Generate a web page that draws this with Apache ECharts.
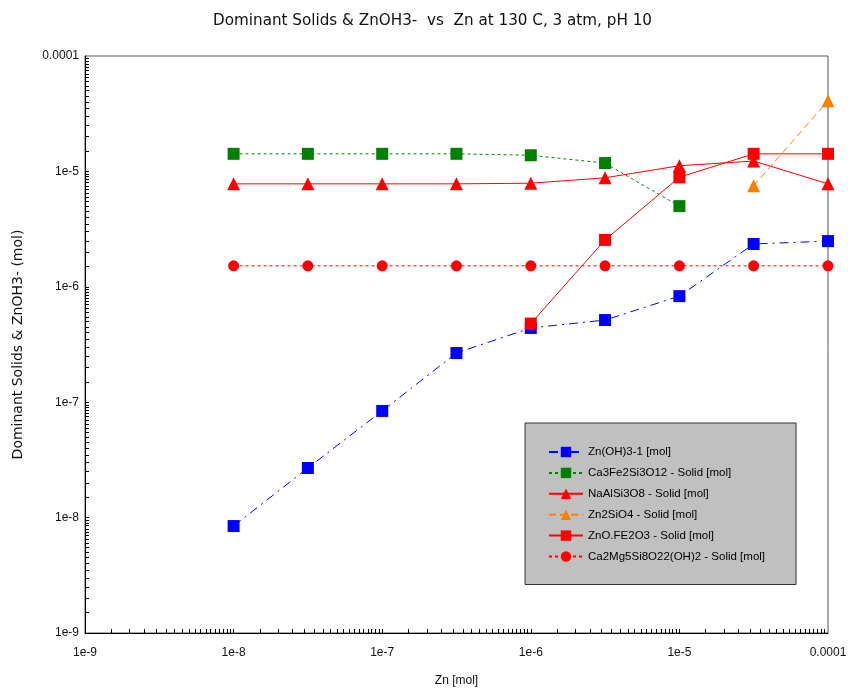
<!DOCTYPE html>
<html>
<head>
<meta charset="utf-8">
<script src="https://cdn.jsdelivr.net/npm/echarts@6/dist/echarts.min.js"></script>
<style>
  html, body { margin: 0; padding: 0; background: #fff; }
  #chart { width: 848px; height: 692px; }
</style>
</head>
<body>
<div id="chart"></div>
<script>
// x positions (Zn, mol)
var znVals = [1e-8, 3.16e-8, 1e-7, 3.16e-7, 1e-6, 3.16e-6, 1e-5, 3.16e-5, 1e-4];

// series values (mol), null where the phase is absent
var znOH3 = [8.45e-9, 2.69e-8, 8.4e-8, 2.67e-7, 4.4e-7, 5.15e-7, 8.3e-7, 2.35e-6, 2.49e-6];
var ca3Fe2 = [1.42e-5, 1.42e-5, 1.42e-5, 1.42e-5, 1.38e-5, 1.18e-5, 5.0e-6, null, null];
var naAlSi = [7.8e-6, 7.8e-6, 7.8e-6, 7.8e-6, 7.9e-6, 8.8e-6, 1.12e-5, 1.23e-5, 7.8e-6];
var zn2SiO4 = [null, null, null, null, null, null, null, 7.5e-6, 4.1e-5];
var znOFe2O3 = [null, null, null, null, 4.8e-7, 2.55e-6, 8.9e-6, 1.42e-5, 1.42e-5];
var ca2Mg5 = [1.52e-6, 1.52e-6, 1.52e-6, 1.52e-6, 1.52e-6, 1.52e-6, 1.52e-6, 1.52e-6, 1.52e-6];

// axis tick labels, by decade exponent
var tickLabels = {'-9': '1e-9', '-8': '1e-8', '-7': '1e-7', '-6': '1e-6', '-5': '1e-5', '-4': '0.0001'};

// small ticks every half unit inside each decade
var tickVals = [];
for (var e = -9; e < -4; e++) {
    for (var m = 1; m < 10; m += 0.5) {
        tickVals.push(m * Math.pow(10, e));
    }
}
tickVals.push(1e-4);

function pairs(ys) {
    var out = [];
    for (var i = 0; i < ys.length; i++) {
        if (ys[i] != null) out.push([znVals[i], ys[i]]);
    }
    return out;
}

function fmt(v) {
    var k = Math.round(Math.log10(v));
    return tickLabels[String(k)] || '';
}

function mkSeries(name, ys, color, symbol, size, dash) {
    return {
        name: name,
        type: 'line',
        data: pairs(ys),
        symbol: symbol,
        symbolSize: size,
        showAllSymbol: true,
        lineStyle: { width: 1, color: color, type: dash },
        itemStyle: { color: color },
        emphasis: { disabled: true },
        z: 3
    };
}

var series = [
    mkSeries('Zn(OH)3-1 [mol]', znOH3, '#0000ff', 'rect', 12, [9, 5, 2, 5]),
    mkSeries('Ca3Fe2Si3O12 - Solid [mol]', ca3Fe2, '#008000', 'rect', 12, [3, 3]),
    mkSeries('NaAlSi3O8 - Solid [mol]', naAlSi, '#ff0000', 'triangle', 13, 'solid'),
    mkSeries('Zn2SiO4 - Solid [mol]', zn2SiO4, '#ff8000', 'triangle', 13, [7, 4]),
    mkSeries('ZnO.FE2O3 - Solid [mol]', znOFe2O3, '#ff0000', 'rect', 12, 'solid'),
    mkSeries('Ca2Mg5Si8O22(OH)2 - Solid [mol]', ca2Mg5, '#ff0000', 'circle', 11, [3, 3])
];

var font = 'Liberation Sans, Arial, sans-serif';
var wide = 'DejaVu Sans, sans-serif';

var option = {
    animation: false,
    textStyle: { fontFamily: font },
    title: {
        text: 'Dominant Solids & ZnOH3-  vs  Zn at 130 C, 3 atm, pH 10',
        left: 208,
        top: 9,
        textStyle: { fontSize: 15.2, fontWeight: 'normal', color: '#111', fontFamily: wide }
    },
    grid: {
        left: 85, right: 20, top: 56, bottom: 59,
        outerBoundsMode: 'none',
        show: true, borderColor: '#555', borderWidth: 1
    },
    legend: {
        orient: 'vertical',
        left: 525,
        top: 423,
        padding: [23, 31, 22, 23],
        itemGap: 8.9,
        itemWidth: 34,
        itemHeight: 13,
        backgroundColor: '#c0c0c0',
        borderColor: '#333',
        borderWidth: 1,
        textStyle: { fontSize: 11.5, color: '#000', fontFamily: font },
        selectedMode: false
    },
    xAxis: {
        type: 'log',
        logBase: 10,
        min: 1e-9,
        max: 1e-4,
        name: 'Zn [mol]',
        nameLocation: 'middle',
        nameGap: 42,
        nameTextStyle: { fontSize: 12, color: '#111' },
        axisLine: { lineStyle: { color: '#000', width: 1 } },
        axisTick: { inside: true, length: 4, customValues: tickVals, lineStyle: { color: '#000' } },
        axisLabel: { margin: 14, fontSize: 12, color: '#111', formatter: fmt },
        splitLine: { show: false }
    },
    yAxis: {
        type: 'log',
        logBase: 10,
        min: 1e-9,
        max: 1e-4,
        name: 'Dominant Solids & ZnOH3- (mol)',
        nameLocation: 'middle',
        nameGap: 60,
        nameTextStyle: { fontSize: 14, color: '#111', fontFamily: wide },
        axisLine: { lineStyle: { color: '#000', width: 1 } },
        axisTick: { inside: true, length: 4, customValues: tickVals, lineStyle: { color: '#000' } },
        axisLabel: { margin: 6, fontSize: 12, color: '#111', formatter: fmt },
        splitLine: { show: false }
    },
    series: series
};

var chart = echarts.init(document.getElementById('chart'));
chart.setOption(option);
</script>
</body>
</html>
